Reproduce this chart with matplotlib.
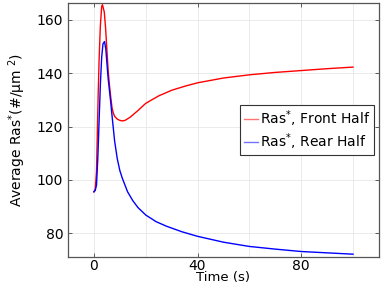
import matplotlib
matplotlib.use("Agg")
import matplotlib.pyplot as plt

# values
t_front = [0, 0.5, 1, 1.6, 2, 2.5, 3, 3.3, 4, 4.5, 5, 5.5, 6, 6.5, 7, 7.5, 8, 9, 10,
           11, 12, 14, 17, 20, 25, 30, 35, 40, 50, 60, 70, 80, 90, 100]
front = [95.5, 96.5, 103, 130, 145, 158, 165, 165.7, 163, 157, 149, 141, 135.5, 131,
         127, 125, 123.8, 122.8, 122.3, 122.1, 122.3, 123.5, 126, 128.7, 131.5, 133.6,
         135.1, 136.4, 138.2, 139.4, 140.3, 141, 141.7, 142.3]

t_rear = [0, 0.5, 1, 1.5, 2, 2.5, 3, 3.5, 4.1, 4.6, 5, 5.5, 6.5, 7, 8, 9, 10, 11, 12,
          13, 15, 17, 20, 24, 28, 34, 40, 50, 60, 70, 80, 90, 100]
rear = [95.5, 96, 98, 108, 122, 136, 146, 151, 151.9, 149, 144, 138, 129, 124, 114.5,
        108, 103.5, 100.5, 98, 95.5, 92.2, 89.6, 86.8, 84.3, 82.6, 80.5, 78.8, 76.6,
        75, 74, 73.1, 72.6, 72.1]

labels = ["Ras$^{*}$, Front Half", "Ras$^{*}$, Rear Half"]

fig = plt.figure(figsize=(3.82, 2.86), dpi=100)
ax = fig.add_axes([0.178, 0.101, 0.814, 0.889])

ax.plot(t_front, front, color="#ff0000", lw=1.0, label=labels[0])
ax.plot(t_rear, rear, color="#0000ff", lw=1.0, label=labels[1])

ax.set_xlim(-10, 110)
ax.set_ylim(71, 166.4)
ax.set_xticks([0, 40, 80])
ax.set_xticks([20, 60, 100], minor=True)
ax.set_yticks([80, 100, 120, 140, 160])
ax.grid(True, which="both", color="#e8e8e8", lw=0.6)
ax.tick_params(which="major", direction="in", top=True, right=True,
               length=3, width=0.6, color="#444444", labelsize=10)
ax.tick_params(axis="x", which="major", pad=1.5)
ax.tick_params(which="minor", length=0)
for s in ax.spines.values():
    s.set_color("#555555")
    s.set_linewidth(0.9)

ax.set_xlabel("Time (s)", fontsize=9.5)
ax.xaxis.label.set_va("center")
ax.xaxis.set_label_coords(0.5, -0.08)
ax.set_ylabel("Average Ras$^{*}$(#/µm $^{2}$)", fontsize=10, labelpad=6)

leg = ax.legend(loc="center right", bbox_to_anchor=(0.985, 0.5), fontsize=10,
                fancybox=False, framealpha=1, edgecolor="#333333",
                handlelength=1.0, handletextpad=0.2, borderpad=0.25,
                labelspacing=0.15, borderaxespad=0)
leg.get_frame().set_linewidth(0.8)
for h in leg.get_lines():
    h.set_alpha(0.55)

fig.savefig("out.png", dpi=100)
